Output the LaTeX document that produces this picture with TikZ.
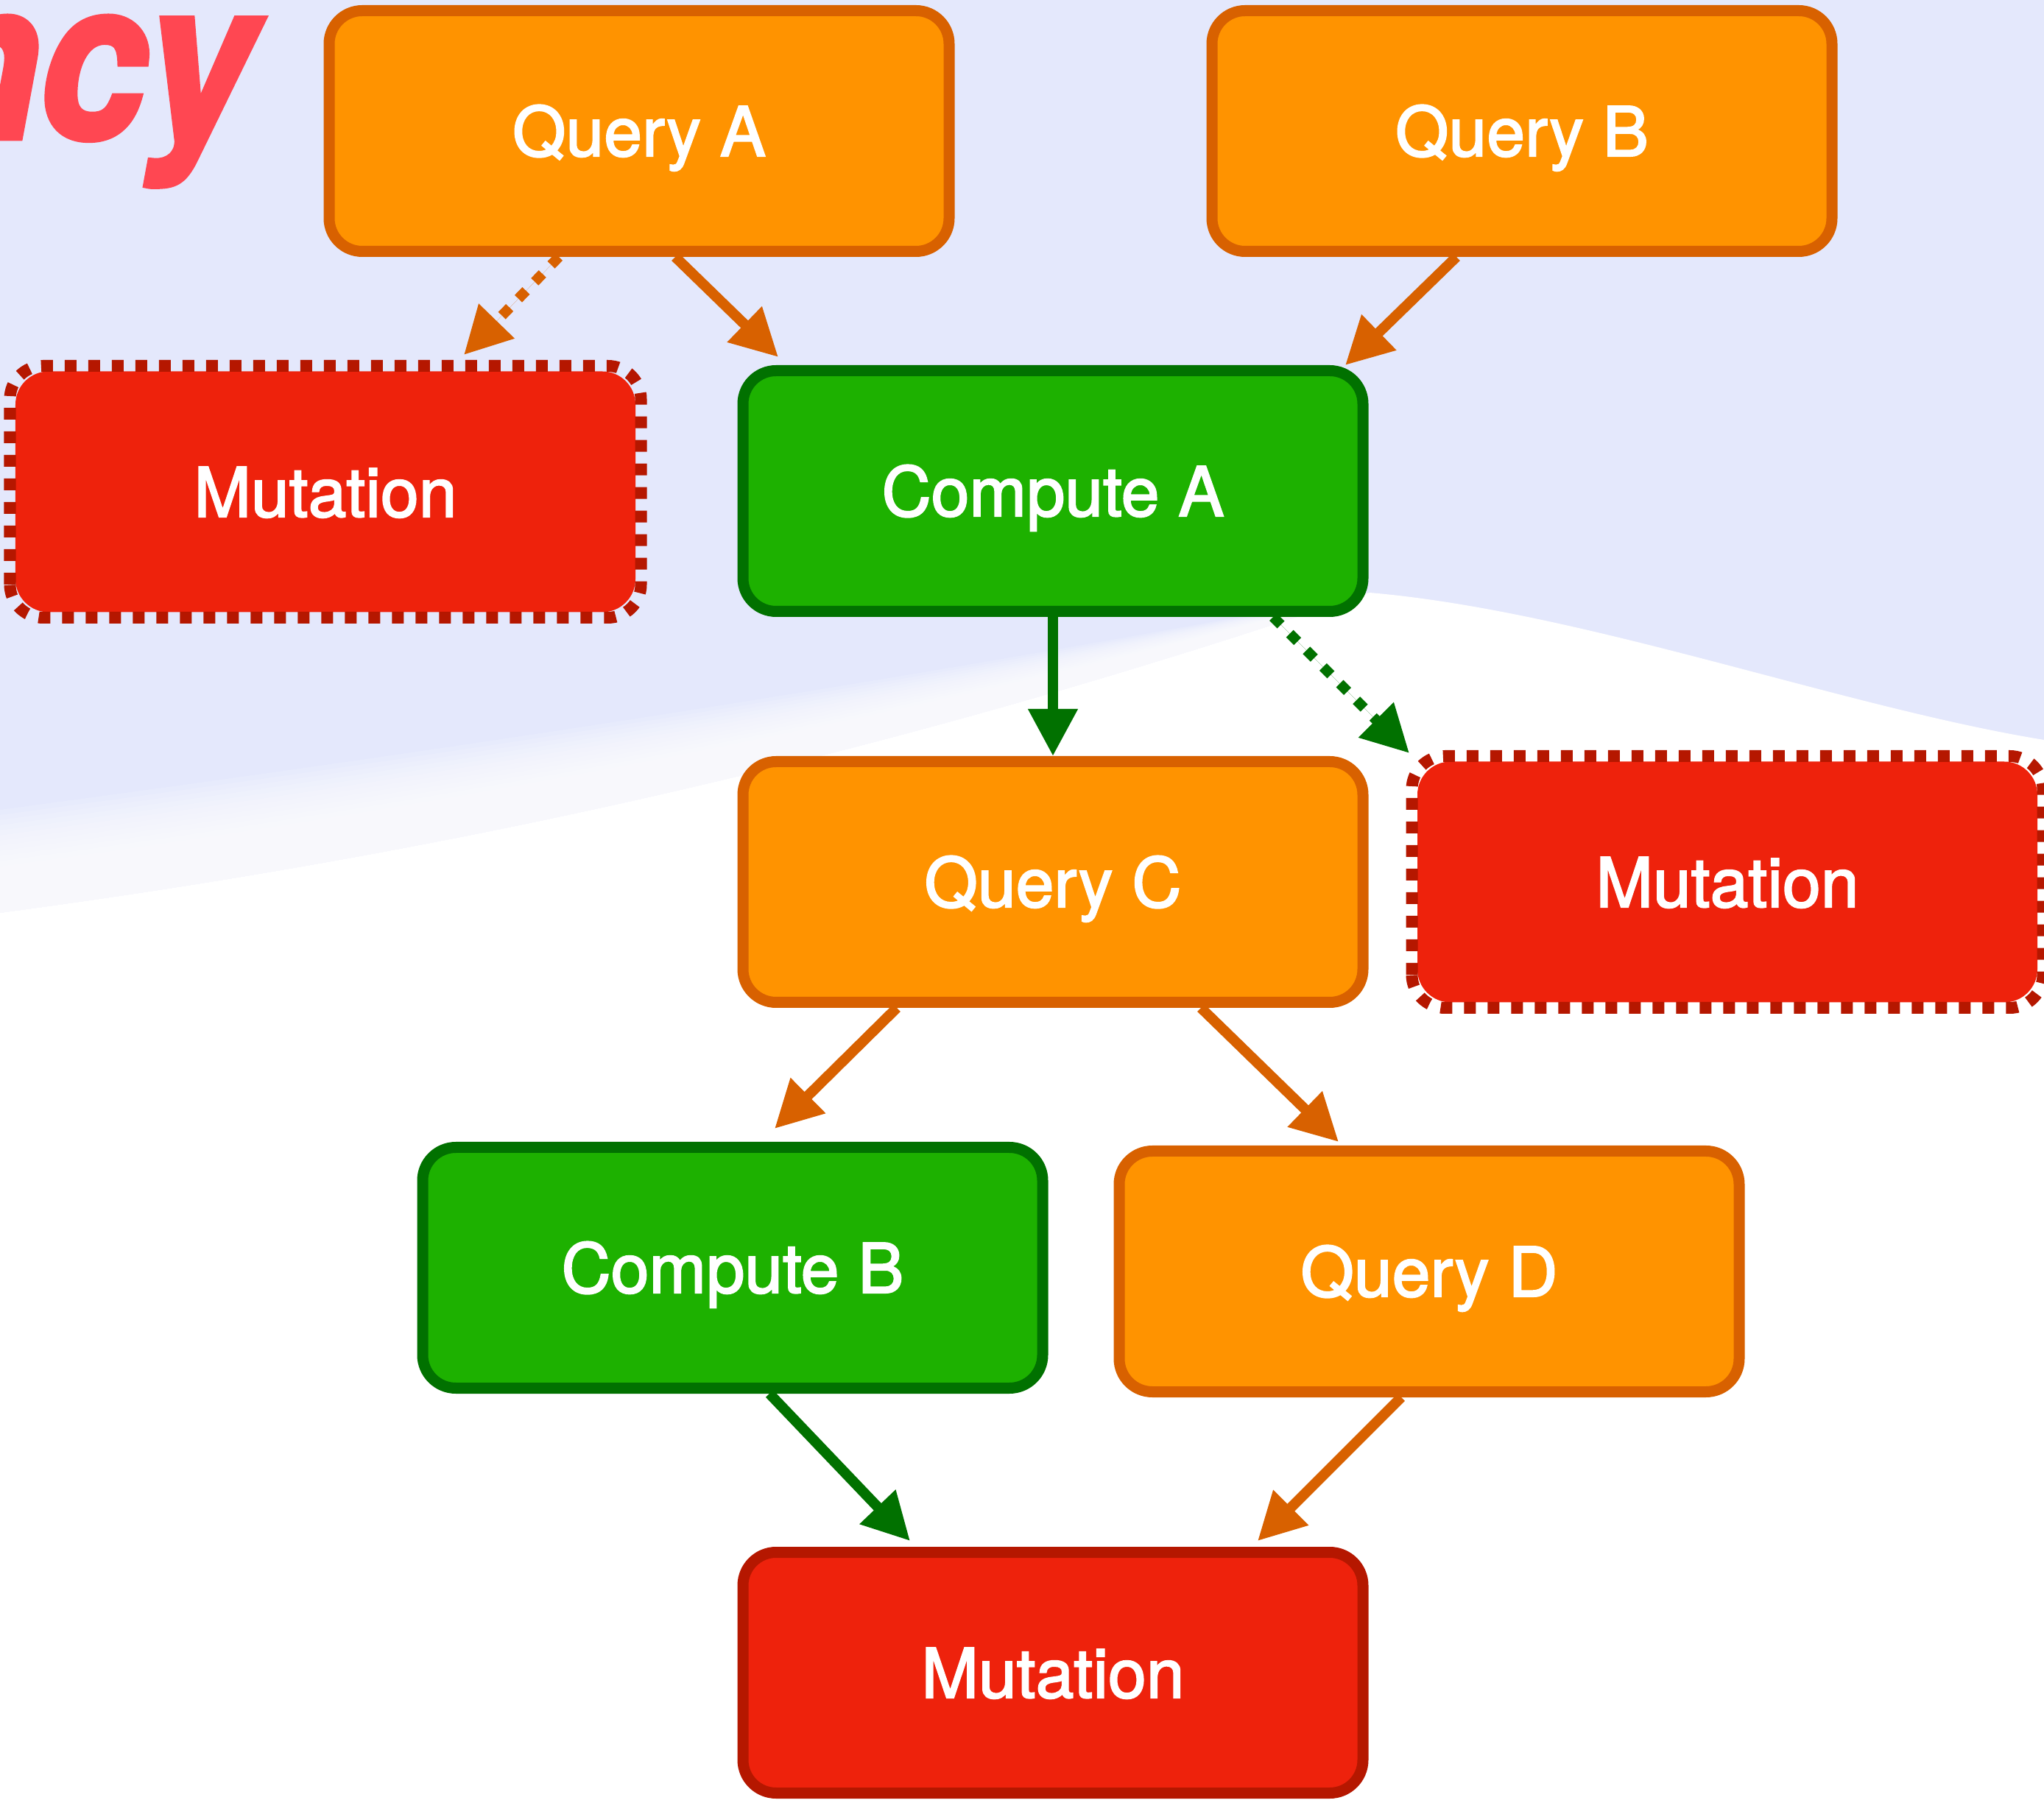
\documentclass[tikz,border=0pt]{standalone}
\usepackage{fontspec}
\usepackage{tikz}
\usetikzlibrary{calc,arrows.meta}
\newfontfamily\boxfont{TeX Gyre Heros}[BoldFont={TeX Gyre Heros}, BoldFeatures={FakeBold=2.2}]
\newfontfamily\titlefont{TeX Gyre Heros}[FakeBold=3]
\definecolor{DepSky}{HTML}{E4E8FC}
\definecolor{DepTitle}{HTML}{FF4752}
\definecolor{DepOrange}{HTML}{FF9300}
\definecolor{DepOrangeDark}{HTML}{D86100}
\definecolor{DepGreen}{HTML}{1DB100}
\definecolor{DepGreenDark}{HTML}{017100}
\definecolor{DepRed}{HTML}{EE220C}
\definecolor{DepRedDark}{HTML}{B51700}

\tikzset{
  box/.style={draw, rounded corners=0.45cm, line width=0.15cm,
    minimum width=8.42cm, minimum height=3.27cm, text=white,
    text height=0.68cm, text depth=0cm,
    font=\boxfont\bfseries\fontsize{26.5}{30}\selectfont},
  query/.style={box, fill=DepOrange, draw=DepOrangeDark},
  compute/.style={box, fill=DepGreen, draw=DepGreenDark},
  mutation/.style={box, fill=DepRed, draw=DepRedDark},
  pending/.style={line width=0.16cm, dash pattern=on 0.16cm off 0.16cm},
  link/.style={line width=0.14cm, -{Triangle[length=0.64cm,width=0.64cm]}},
  qlink/.style={link, draw=DepOrangeDark, fill=DepOrangeDark},
  clink/.style={link, draw=DepGreenDark, fill=DepGreenDark},
  weak/.style={dash pattern=on 0.15cm off 0.17cm}
}

\begin{document}
\begin{tikzpicture}
  \useasboundingbox (0,0) rectangle (27.76,-24.49);
  % background: sky above, white hill below
  \fill[DepSky] (0,0) rectangle (27.76,-24.49);
  \fill[white] (0,-12.4) .. controls (6,-11.6) and (12,-10.3) .. (18.6,-8.05)
    .. controls (21.5,-8.3) and (25,-9.6) .. (27.76,-10.05)
    -- (27.76,-24.49) -- (0,-24.49) -- cycle;
  \foreach \k in {1,...,20}
    \fill[white, opacity=0.14] (0,-12.4+0.07*\k) .. controls (6,-11.6+0.07*\k) and (12,-10.3+0.05*\k) .. (18.6,-8.05)
      -- (18.6,-24.49) -- (0,-24.49) -- cycle;
  % title, cut at the left edge
  \node[anchor=base west, inner sep=0, text=DepTitle, xscale=0.87,
    font=\titlefont\bfseries\itshape\fontsize{85}{90}\selectfont] (title) at (-1.05,-1.87) {ncy};

  % nodes
  \node[query] (qa) at (8.68,-1.78) {Query A};
  \node[query] (qb) at (20.67,-1.78) {Query B};
  \node[mutation, draw=none] (mutl) at (4.42,-6.68) {Mutation};
  \draw[DepRedDark, pending, rounded corners=0.45cm] (mutl.south west) rectangle (mutl.north east);
  \node[compute] (ca) at (14.30,-6.67) {Compute A};
  \node[query] (qc) at (14.30,-11.98) {Query C};
  \node[mutation, draw=none] (mutr) at (23.46,-11.98) {Mutation};
  \draw[DepRedDark, pending, rounded corners=0.45cm] (mutr.south west) rectangle (mutr.north east);
  \node[compute] (cb) at (9.95,-17.22) {Compute B};
  \node[query] (qd) at (19.41,-17.27) {Query D};
  \node[mutation] (mutb) at (14.30,-22.72) {Mutation};

  % connectors
  \draw[qlink, weak] ($(qa.south)+(-1.09,0)$) -- ($(mutl.north)+(1.88,0.15)$);
  \draw[qlink] ($(qa.south)+(0.49,0)$) -- ($(ca.north)+(-3.73,0.11)$);
  \draw[qlink] ($(qb.south)+(-0.89,0)$) -- ($(ca.north)+(3.97,0)$);
  \draw[clink] (ca.south) -- (qc.north);
  \draw[clink, weak] ($(ca.south)+(2.99,0)$) -- ($(mutr.north)+(-4.32,0.04)$);
  \draw[qlink] ($(qc.south)+(-2.12,0)$) -- ($(cb.north)+(0.57,0.18)$);
  \draw[qlink] ($(qc.south)+(2.01,0)$) -- ($(qd.north)+(-1.23,0.05)$);
  \draw[clink] ($(cb.south)+(0.5,0)$) -- ($(mutb.north)+(-1.94,0.08)$);
  \draw[qlink] ($(qd.south)+(-0.38,0)$) -- ($(mutb.north)+(2.78,0.08)$);
\end{tikzpicture}
\end{document}
